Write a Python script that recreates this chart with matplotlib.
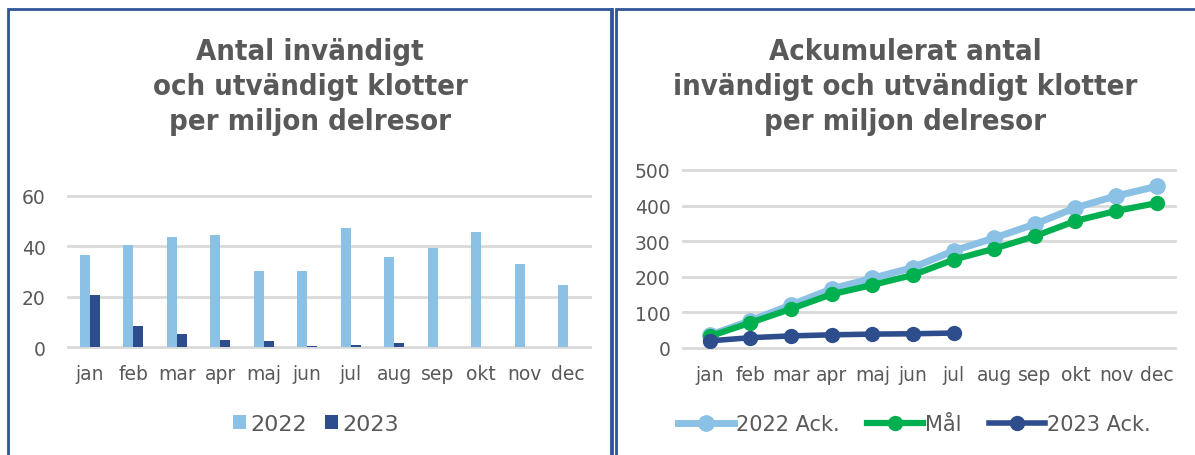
import matplotlib.pyplot as plt
import numpy as np
from matplotlib.patches import Rectangle
from matplotlib.lines import Line2D

months = ["jan", "feb", "mar", "apr", "maj", "jun", "jul", "aug", "sep", "okt", "nov", "dec"]
v2022 = [36.5, 40.7, 43.8, 44.7, 30.1, 30.1, 47.4, 35.6, 39.2, 45.5, 32.8, 24.5]
v2023 = [20.7, 8.3, 5.0, 2.8, 2.5, 0.4, 0.8, 1.6]
ack2022 = [36, 77, 121, 166, 196, 226, 273, 309, 348, 394, 427, 454]
mal = [33, 71, 110, 151, 177, 205, 248, 279, 314, 357, 385, 407]
ack2023 = [20, 29, 34, 37, 39, 40, 42]

light = "#8AC1E4"
dark = "#2E4D8C"
green = "#00B050"
grey = "#595959"
gridc = "#D9D9D9"
border = "#2F5597"

W, H = 1195, 456
fig = plt.figure(figsize=(W / 100, H / 100), dpi=100)

def fx(px):
    return px / W

def fy(py):
    return 1 - py / H

# panel borders
fig.patches.append(Rectangle((fx(8), fy(470)), fx(603), fy(10) - fy(470), transform=fig.transFigure,
                             fill=False, ec=border, lw=2))
fig.patches.append(Rectangle((fx(616), fy(470)), fx(600), fy(10) - fy(470), transform=fig.transFigure,
                             fill=False, ec=border, lw=2))
fig.add_artist(Line2D([fx(612), fx(612)], [0, fy(10)], transform=fig.transFigure, color=border, lw=2))

# left chart
ax1 = fig.add_axes([fx(68), fy(348), fx(590) - fx(68), fy(197) - fy(348)])
x = np.arange(len(months))
w = 0.23
ax1.bar(x - w / 2, v2022, w, color=light, label="2022", zorder=3)
ax1.bar(np.arange(len(v2023)) + w / 2, v2023, w, color=dark, label="2023", zorder=3)
ax1.set_xlim(-0.5, 11.5)
ax1.set_ylim(0, 60)
ax1.set_yticks([0, 20, 40, 60])

# right chart
ax2 = fig.add_axes([fx(683), fy(349), fx(1175) - fx(683), fy(171) - fy(349)])
ax2.plot(x, ack2022, color=light, lw=5, marker="o", ms=11, label="2022 Ack.", zorder=3)
ax2.plot(x, mal, color=green, lw=4.5, marker="o", ms=10, label="Mål", zorder=4)
ax2.plot(np.arange(len(ack2023)), ack2023, color=dark, lw=4, marker="o", ms=10, label="2023 Ack.", zorder=5)
ax2.set_xlim(-0.66, 11.45)
ax2.set_ylim(0, 500)
ax2.set_yticks([0, 100, 200, 300, 400, 500])

for ax, pad in ((ax1, 16), (ax2, 9)):
    ax.set_xticks(x)
    ax.set_xticklabels(months)
    for s in ax.spines.values():
        s.set_visible(False)
    ax.grid(axis="y", color=gridc, lw=2, zorder=0)
    for gl in ax.get_ygridlines():
        gl.set_clip_on(False)
    ax.set_axisbelow(True)
    ax.tick_params(length=0, labelsize=13.5, labelcolor=grey)
    ax.tick_params(axis="y", pad=pad)
    ax.tick_params(axis="x", pad=12)

tkw = dict(ha="center", va="center", fontsize=21, fontweight="bold", color=grey,
           family="DejaVu Sans", fontstretch="condensed", linespacing=1.33)
fig.text(fx(310), fy(87), "Antal invändigt\noch utvändigt klotter\nper miljon delresor", **tkw)
fig.text(fx(905), fy(87), "Ackumulerat antal\ninvändigt och utvändigt klotter\nper miljon delresor", **tkw)

fig.legend(handles=ax1.get_legend_handles_labels()[0], labels=["2022", "2023"], loc="center",
           bbox_to_anchor=(fx(316), fy(425)), ncol=2, frameon=False, fontsize=16, labelcolor=grey,
           handlelength=0.6, handleheight=0.6, handletextpad=0.2, columnspacing=0.8)
fig.legend(handles=ax2.get_legend_handles_labels()[0], labels=["2022 Ack.", "Mål", "2023 Ack."], loc="center",
           bbox_to_anchor=(fx(914), fy(425)), ncol=3, frameon=False, fontsize=15, labelcolor=grey,
           handlelength=2.7, handletextpad=0.1, columnspacing=1.3)

fig.savefig("out.png", dpi=100)
